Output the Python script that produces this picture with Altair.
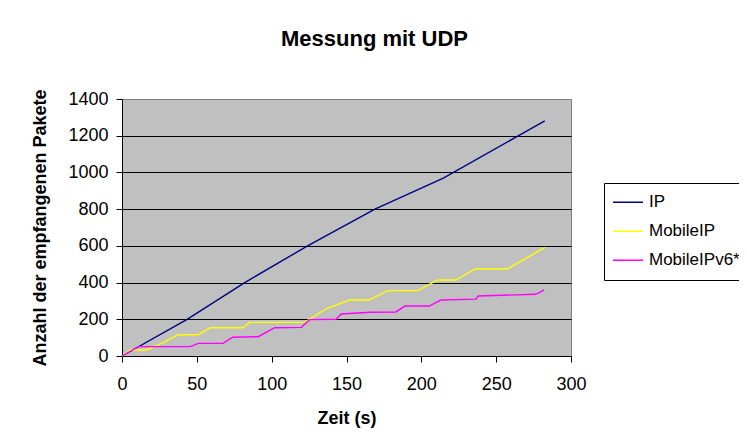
import altair as alt
import pandas as pd

# ---- data ----
series_names = ["IP", "MobileIP", "MobileIPv6*"]
series_colors = ["#000080", "#FFFF00", "#FF00FF"]

ip_time = [0, 43.5, 82, 124, 169, 214.7, 265.3, 282.5]
ip_packets = [0, 200, 400, 600, 800, 969, 1202, 1281]

mip_time = [0, 5.5, 16.4, 27.7, 37.5, 51, 59, 81, 85, 122, 137, 152, 165, 177.5,
            197.5, 211, 223, 236, 257.5, 269.8, 282.7]
mip_packets = [0, 33, 33, 73, 116, 116, 154, 154, 183, 183, 260, 305, 305, 356,
               356, 414, 414, 474, 474, 532, 592]

mip6_time = [0, 11, 45.5, 51, 67.5, 74, 91, 102, 120, 125.3, 143, 146.5, 166, 183,
             189, 205.3, 213, 236.5, 238, 276, 279, 282]
mip6_packets = [0, 51, 51, 69, 69, 102, 105, 154, 156, 198, 200, 229, 238, 240,
                272, 272, 305, 310, 327, 336, 345, 360]

x_ticks = [0, 50, 100, 150, 200, 250, 300]
y_ticks = [0, 200, 400, 600, 800, 1000, 1200, 1400]

rows = []
for name, ts, vs in [("IP", ip_time, ip_packets),
                     ("MobileIP", mip_time, mip_packets),
                     ("MobileIPv6*", mip6_time, mip6_packets)]:
    for i, (t, v) in enumerate(zip(ts, vs)):
        rows.append({"series": name, "t": t, "v": v, "order": i})
df = pd.DataFrame(rows)

FONT = "Liberation Sans"

chart = alt.Chart(df).mark_line(strokeWidth=1.4).encode(
    x=alt.X("t:Q",
            scale=alt.Scale(domain=[0, 300], nice=False, zero=False),
            axis=alt.Axis(values=x_ticks, title="Zeit (s)", grid=False,
                          format="d", labelFlush=False,
                          titleX=224.5, titleY=62, titleAlign="center",
                          titleBaseline="middle", labelPadding=13)),
    y=alt.Y("v:Q",
            scale=alt.Scale(domain=[0, 1400], nice=False),
            axis=alt.Axis(values=y_ticks, title="Anzahl der empfangenen Pakete",
                          grid=True, format="d", labelFlush=False,
                          gridColor=alt.condition("datum.value == 1400",
                                                  alt.value("#808080"),
                                                  alt.value("black")),
                          titleX=-82, titleY=128.5, titleAngle=-90,
                          titleAlign="center", titleBaseline="middle",
                          labelPadding=8)),
    color=alt.Color("series:N",
                    scale=alt.Scale(domain=series_names, range=series_colors),
                    legend=alt.Legend(title=None, orient="none", legendX=482,
                                      legendY=84, fillColor="white",
                                      strokeColor="black", padding=5,
                                      symbolType="stroke", symbolSize=900,
                                      symbolStrokeWidth=1.5, symbolOffset=3,
                                      labelFontSize=17, labelOffset=5,
                                      labelColor="black", labelFont=FONT,
                                      clipHeight=28.5, rowPadding=0)),
    order="order:Q",
).properties(
    width=449,
    height=257,
    title=alt.Title("Messung mit UDP", fontSize=22, fontWeight="bold",
                    font=FONT, color="black", anchor="middle", offset=38, dx=28),
    autosize=alt.AutoSizeParams(type="none"),
    padding={"left": 114, "top": 91, "right": 168, "bottom": 74},
    background="white",
).configure_view(
    fill="#C0C0C0", stroke="#808080", strokeWidth=1
).configure_axis(
    labelFont=FONT, labelFontSize=18, labelColor="black",
    titleFont=FONT, titleFontSize=18, titleFontWeight="bold", titleColor="black",
    domainColor="black", domainWidth=1, tickColor="black", tickSize=6,
    tickWidth=1, gridWidth=1
)

chart.save("out.html", embed_options={"renderer": "svg", "actions": False})
